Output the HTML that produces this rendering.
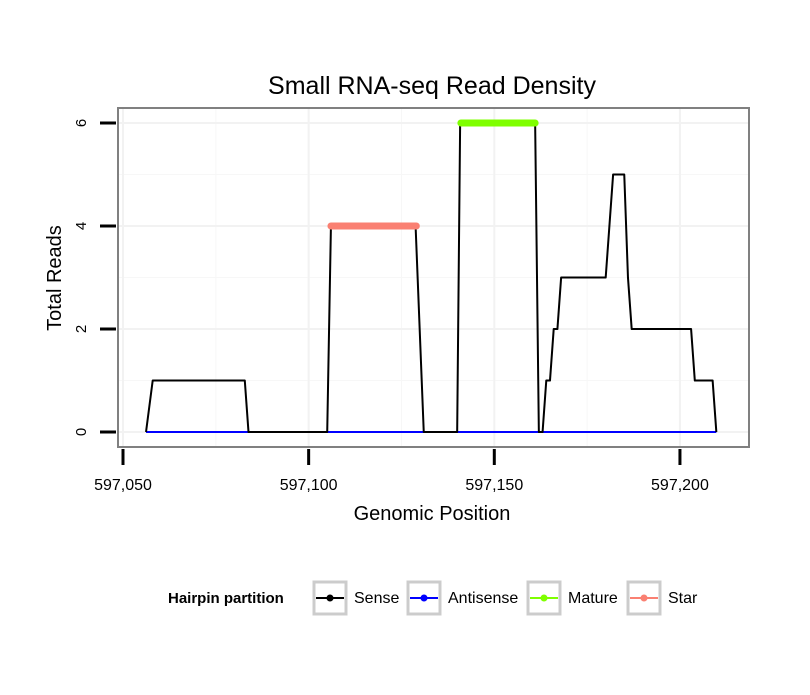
<!DOCTYPE html>
<html><head><meta charset="utf-8"><style>
body{margin:0;background:#fff;}
svg text{font-family:"Liberation Sans",sans-serif;}
</style></head><body>
<svg id="c" width="810" height="690">
<rect width="810" height="690" fill="#fff"/>
<text x="432" y="94" font-size="25" text-anchor="middle">Small RNA-seq Read Density</text>
<g id="grid"></g>
<g id="series"></g>
<rect x="118" y="108" width="631" height="339" fill="none" stroke="#808080" stroke-width="2"/>
<g id="axes"></g>
<text x="432" y="520" font-size="20" text-anchor="middle">Genomic Position</text>
<text transform="translate(61,278) rotate(-90)" font-size="20" text-anchor="middle">Total Reads</text>
<g>
<text x="168" y="603" font-size="15" font-weight="bold">Hairpin partition</text>
<g><rect x="314" y="582" width="32" height="32" fill="#fff" stroke="#ccc" stroke-width="3"/><line x1="316" y1="598" x2="344" y2="598" stroke="#000" stroke-width="2"/><circle cx="330" cy="598" r="3.5" fill="#000"/><text x="354" y="603" font-size="16">Sense</text></g>
<g><rect x="408" y="582" width="32" height="32" fill="#fff" stroke="#ccc" stroke-width="3"/><line x1="410" y1="598" x2="438" y2="598" stroke="#00f" stroke-width="2"/><circle cx="424" cy="598" r="3.5" fill="#00f"/><text x="448" y="603" font-size="16">Antisense</text></g>
<g><rect x="528" y="582" width="32" height="32" fill="#fff" stroke="#ccc" stroke-width="3"/><line x1="530" y1="598" x2="558" y2="598" stroke="#7fff00" stroke-width="2"/><circle cx="544" cy="598" r="3.5" fill="#7fff00"/><text x="568" y="603" font-size="16">Mature</text></g>
<g><rect x="628" y="582" width="32" height="32" fill="#fff" stroke="#ccc" stroke-width="3"/><line x1="630" y1="598" x2="658" y2="598" stroke="#fa8072" stroke-width="2"/><circle cx="644" cy="598" r="3.5" fill="#fa8072"/><text x="668" y="603" font-size="16">Star</text></g>
</g>
</svg>
<script>
const xTicks=[597050,597100,597150,597200];
const yTicks=[0,2,4,6];
const sensePos=[597056.2,597058,597082.8,597083.8,597105,597106,597128.8,597131,597140,597140.8,597161,597162,597163,597164,597165,597166,597167,597168,597180,597182,597185,597186,597187,597203,597204,597208.8,597209.8];
const senseVal=[0,1,1,0,0,4,4,0,0,6,6,0,0,1,1,2,2,3,3,5,5,3,2,2,1,1,0];
const antisensePos=[597056.2,597209.8];
const antisenseVal=[0,0];
const maturePos=[597141,597161];
const matureVal=[6,6];
const starPos=[597106,597129];
const starVal=[4,4];
const NS="http://www.w3.org/2000/svg";
const x=p=>123+(p-597050)*3.713;
const y=v=>432-v*51.5;
function mk(t,a,par){const e=document.createElementNS(NS,t);for(const k in a)e.setAttribute(k,a[k]);par.appendChild(e);return e;}
const grid=document.getElementById('grid'),ser=document.getElementById('series'),ax=document.getElementById('axes');
[597075,597125,597175].forEach(p=>{const l=mk('line',{x1:x(p),x2:x(p),y1:108,y2:447,stroke:'#f7f7f7','stroke-width':1},grid);});
[1,3,5].forEach(v=>{const l=mk('line',{x1:118,x2:749,y1:y(v),y2:y(v),stroke:'#f7f7f7','stroke-width':1},grid);});
xTicks.forEach(p=>{const l=mk('line',{x1:x(p),x2:x(p),y1:108,y2:447,stroke:'#f2f2f2','stroke-width':2},grid);
 const t=mk('line',{x1:x(p),x2:x(p),y1:449,y2:465,stroke:'#000','stroke-width':3},ax);
 const tx=mk('text',{x:x(p),y:490,'font-size':16,'text-anchor':'middle'},ax);tx.textContent=p.toLocaleString('en-US');});
yTicks.forEach(v=>{const l=mk('line',{x1:118,x2:749,y1:y(v),y2:y(v),stroke:'#f2f2f2','stroke-width':2},grid);
 const t=mk('line',{x1:100,x2:116,y1:y(v),y2:y(v),stroke:'#000','stroke-width':3},ax);
 const tx=mk('text',{transform:`translate(86,${y(v)}) rotate(-90)`,'font-size':15,'text-anchor':'middle'},ax);tx.textContent=v;});
function line(P,V,col,w,cap,name){const d=P.map((p,i)=>(i?'L':'M')+x(p)+','+y(V[i])).join('');const e=mk('path',{d:d,fill:'none',stroke:col,'stroke-width':w,'stroke-linecap':cap,'stroke-linejoin':'round'},ser);}
line(antisensePos,antisenseVal,'#00f',2,'butt','antisense-line');
line(sensePos,senseVal,'#000',2,'butt','sense-line');
line(maturePos,matureVal,'#7fff00',7,'round','mature-line');
line(starPos,starVal,'#fa8072',7,'round','star-line');
</script>
</body></html>
